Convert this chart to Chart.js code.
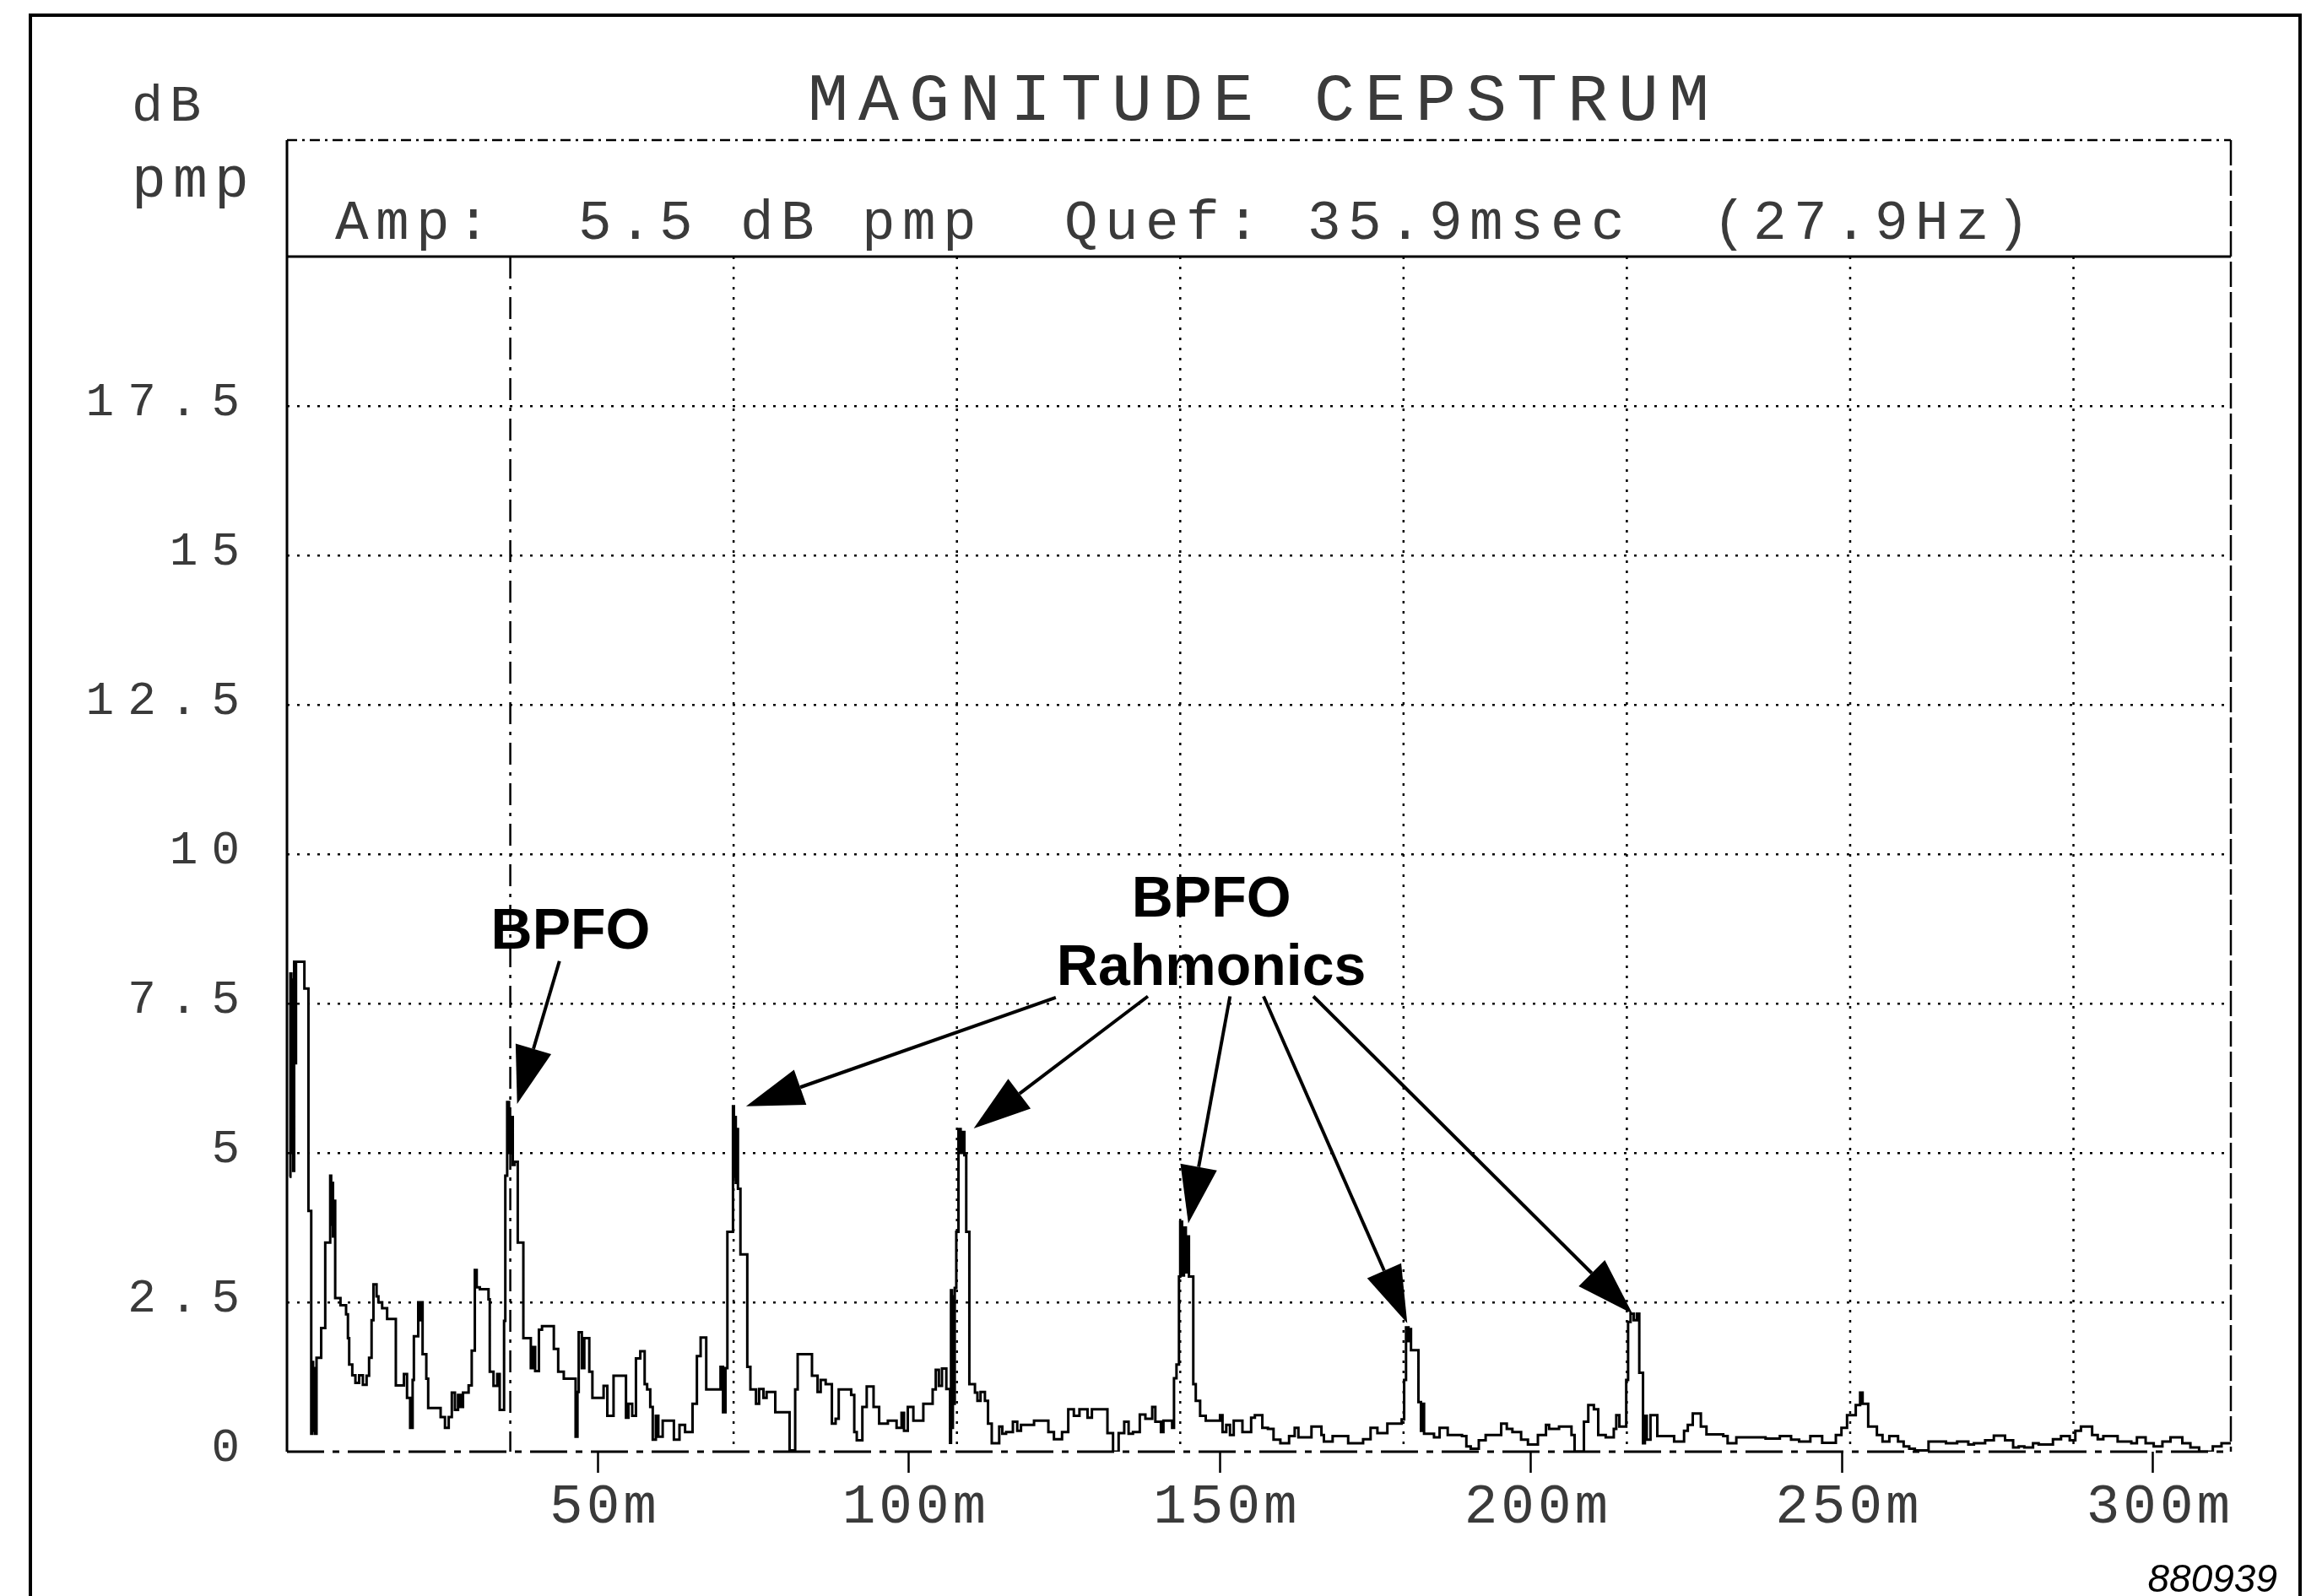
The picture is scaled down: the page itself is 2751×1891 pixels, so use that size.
<!DOCTYPE html>
<html>
<head>
<meta charset="utf-8">
<title>Magnitude Cepstrum</title>
<script src="https://cdn.jsdelivr.net/npm/chart.js@4/dist/chart.umd.min.js"></script>
<style>
  html, body { margin: 0; padding: 0; background: #fff; }
  canvas { display: block; }
</style>
</head>
<body>
<canvas id="chart" width="2751" height="1891" style="width:2751px;height:1891px"></canvas>
<script>
// quefrency (ms) where each step of the trace starts, and the level it steps to (dB pmp)
const quefMs = [
  // 0 - 52 ms
  0.4, 0.55, 0.7, 0.85, 1.0, 1.15, 1.3, 1.45, 2.8, 3.45,
  3.9, 4.05, 4.2, 4.35, 4.5, 4.75, 5.5, 6.15, 6.95, 7.1,
  7.25, 7.4, 7.55, 7.75, 8.6, 9.5, 9.8, 10.0, 10.5, 11.0,
  11.6, 12.2, 12.8, 13.2, 13.6, 13.9, 14.4, 14.7, 15.3, 16.1,
  17.5, 18.8, 19.3, 19.8, 20.2, 20.4, 21.1, 21.3, 21.5, 21.8,
  22.4, 22.7, 24.7, 25.4, 26.0, 26.5, 27.0, 27.5, 27.9, 28.3,
  29.2, 29.7, 30.2, 30.5, 31.0, 32.4, 32.6, 33.2, 33.8, 34.2,
  34.9, 35.1, 35.4, 35.7, 36.0, 36.3, 36.6, 37.1, 38.0, 39.2,
  39.6, 39.9, 40.5, 41.0, 42.9, 43.6, 44.5, 46.4, 46.7, 46.9,
  47.4, 47.8, 48.6, 49.1, 50.9, 51.5,
  // 52 - 105 ms
  51.9, 52.5, 54.5, 54.9, 55.5, 56.1, 56.8, 57.5, 57.9, 58.4,
  58.8, 59.3, 59.7, 60.4, 62.2, 63.1, 64.0, 65.2, 65.9, 66.5,
  67.4, 69.7, 70.1, 70.5, 70.8, 71.7, 71.85, 72.0, 72.15, 72.3,
  72.5, 72.9, 74.0, 74.5, 75.4, 75.9, 76.6, 77.1, 78.5, 80.8,
  81.7, 82.1, 84.4, 85.3, 85.8, 86.6, 87.6, 88.2, 88.7, 90.7,
  91.2, 91.6, 92.5, 93.2, 94.3, 95.2, 96.6, 98.0, 98.8, 99.2,
  99.8, 100.7, 102.3, 103.8, 104.3,
  // 105 - 157 ms
  104.8, 105.3, 106.0, 106.6, 106.75, 106.9, 107.05, 107.2, 107.35, 107.6,
  107.95, 108.3, 108.6, 108.9, 109.2, 109.7, 110.6, 111.0, 111.5, 112.2,
  112.7, 113.3, 114.5, 115.0, 115.6, 116.7, 117.4, 118.0, 120.1, 122.4,
  123.3, 124.6, 125.6, 126.5, 127.4, 128.7, 129.4, 131.9, 132.8, 133.7,
  134.6, 135.3, 136.0, 137.1, 138.0, 139.1, 139.6, 140.5, 140.9, 142.3,
  142.6, 143.0, 143.4, 143.6, 143.9, 144.2, 144.5, 144.8, 145.0, 145.7,
  146.1, 146.8, 147.7, 150.0, 150.4, 151.0, 151.6, 152.2, 153.6, 155.0,
  155.6, 156.8,
  // 157 - 211 ms
  157.7, 158.6, 159.7, 161.1, 162.0, 162.6, 164.7, 166.3, 166.7, 168.1,
  170.6, 173.0, 174.2, 175.3, 176.9, 179.2, 179.6, 179.9, 180.3, 180.5,
  180.7, 181.9, 182.3, 182.6, 182.8, 184.4, 185.3, 186.6, 188.9, 189.6,
  190.3, 191.6, 192.7, 195.2, 196.1, 197.0, 198.4, 199.5, 201.1, 202.4,
  202.9, 204.5, 206.5, 207.0, 208.5, 209.2, 210.1, 210.8,
  // 211 - 262 ms
  211.5, 212.0, 213.3, 213.7, 214.2, 215.3, 215.6, 216.0, 216.5, 217.0,
  217.4, 218.0, 218.3, 218.6, 219.2, 220.3, 223.0, 224.6, 225.2, 226.0,
  227.3, 228.2, 230.9, 231.6, 233.0, 237.7, 240.0, 241.8, 243.1, 244.9,
  246.8, 249.0, 249.9, 250.8, 252.2, 252.9, 253.3, 254.2, 255.6, 256.5,
  257.6, 259.0, 259.9, 260.8, 261.7,
  // 262 - 312.5 ms
  263.9, 266.7, 268.5, 270.3, 271.2, 273.0, 274.4, 276.2, 277.5, 278.4,
  279.3, 280.7, 281.6, 283.9, 285.2, 286.6, 287.5, 288.4, 290.2, 291.1,
  292.0, 294.3, 296.5, 297.4, 298.8, 300.1, 301.5, 302.8, 304.7, 306.0,
  307.4, 309.6, 311.0, 312.5
];
const ampDb = [
  4.6, 8.0, 5.0, 7.9, 4.7, 8.2, 6.5, 8.2, 7.75, 4.03,
  0.3, 1.5, 0.35, 1.4, 0.3, 1.57, 2.07, 3.5, 4.62, 3.8,
  4.5, 3.6, 4.2, 2.57, 2.45, 2.3, 1.9, 1.46, 1.28, 1.15,
  1.28, 1.12, 1.27, 1.57, 2.2, 2.8, 2.6, 2.5, 2.4, 2.22,
  1.11, 1.3, 0.9, 0.4, 1.2, 1.93, 2.5, 2.2, 2.5, 1.63,
  1.22, 0.73, 0.58, 0.4, 0.58, 0.99, 0.7, 0.95, 0.75, 0.99,
  1.11, 1.69, 3.04, 2.75, 2.72, 2.55, 1.34, 1.1, 1.3, 0.7,
  2.19, 4.62, 5.85, 5.0, 5.6, 4.8, 4.85, 3.5, 1.9, 1.4,
  1.75, 1.35, 2.04, 2.1, 1.72, 1.34, 1.22, 0.25, 1.0, 2.0,
  1.4, 1.9, 1.34, 0.9, 1.1, 0.6,

  0.6, 1.27, 0.57, 0.8, 0.6, 1.56, 1.68, 1.13, 1.04, 0.75,
  0.2, 0.6, 0.25, 0.52, 0.2, 0.45, 0.33, 0.8, 1.6, 1.91,
  1.04, 1.42, 0.66, 1.4, 3.68, 5.78, 4.6, 5.6, 4.5, 5.4,
  4.4, 3.3, 1.42, 1.04, 0.8, 1.05, 0.9, 1.0, 0.66, 0.02,
  1.04, 1.63, 1.27, 1.0, 1.2, 1.13, 0.47, 0.55, 1.04, 0.95,
  0.33, 0.19, 0.75, 1.09, 0.75, 0.47, 0.52, 0.4, 0.65, 0.35,
  0.75, 0.52, 0.8, 1.04, 1.37,

  1.1, 1.39, 1.05, 0.15, 2.7, 0.4, 2.6, 0.8, 2.74, 3.68,
  5.4, 5.0, 5.35, 4.96, 3.68, 1.13, 0.99, 0.85, 1.0, 0.85,
  0.47, 0.14, 0.42, 0.3, 0.33, 0.5, 0.35, 0.45, 0.52, 0.33,
  0.21, 0.33, 0.71, 0.6, 0.71, 0.57, 0.71, 0.31, 0.0, 0.31,
  0.5, 0.3, 0.33, 0.62, 0.55, 0.75, 0.5, 0.33, 0.52, 0.4,
  1.23, 1.46, 2.93, 3.85, 2.95, 3.75, 3.0, 3.6, 2.93, 1.13,
  0.85, 0.6, 0.52, 0.61, 0.33, 0.45, 0.28, 0.52, 0.33, 0.57,
  0.61, 0.4,

  0.38, 0.2, 0.14, 0.26, 0.4, 0.24, 0.42, 0.28, 0.17, 0.26,
  0.14, 0.21, 0.4, 0.31, 0.47, 0.54, 1.2, 2.08, 1.85, 2.05,
  1.7, 0.83, 0.35, 0.8, 0.3, 0.24, 0.4, 0.28, 0.26, 0.09,
  0.05, 0.19, 0.28, 0.47, 0.38, 0.33, 0.2, 0.12, 0.28, 0.45,
  0.38, 0.42, 0.28, 0.0, 0.5, 0.78, 0.71, 0.28,

  0.28, 0.24, 0.38, 0.61, 0.42, 1.2, 2.17, 2.31, 2.2, 2.31,
  1.32, 0.14, 0.6, 0.2, 0.61, 0.26, 0.17, 0.35, 0.45, 0.64,
  0.42, 0.29, 0.26, 0.14, 0.24, 0.22, 0.26, 0.2, 0.17, 0.26,
  0.15, 0.28, 0.4, 0.61, 0.78, 0.99, 0.8, 0.42, 0.28, 0.17,
  0.26, 0.17, 0.09, 0.05, 0.02,

  0.17, 0.14, 0.17, 0.12, 0.14, 0.19, 0.27, 0.19, 0.07, 0.09,
  0.07, 0.14, 0.12, 0.21, 0.26, 0.19, 0.35, 0.42, 0.28, 0.21,
  0.26, 0.17, 0.14, 0.24, 0.14, 0.09, 0.17, 0.24, 0.14, 0.07,
  0.0, 0.09, 0.14, 0.14
];

const xTickValues = [50, 100, 150, 200, 250, 300];
const yTickValues = [0, 2.5, 5, 7.5, 10, 12.5, 15, 17.5];

// cursor and its harmonic markers
const cursorMs = 35.9;
const harmonicCount = 8;

// annotation texts, placed in data units (ms, dB)
const noteText = ['BPFO', 'BPFO', 'Rahmonics'];
const noteMs = [45.6, 148.6, 148.6];
const noteDb = [8.42, 8.95, 7.81];

// arrows: tail and tip in data units
const arrowFromMs = [43.8, 123.6, 138.4, 151.6, 157.0, 165.0];
const arrowFromDb = [8.21, 7.60, 7.62, 7.62, 7.62, 7.62];
const arrowToMs = [37.0, 73.8, 110.4, 144.9, 180.1, 216.3];
const arrowToDb = [5.82, 5.78, 5.41, 3.82, 2.15, 2.31];

const MONO = '"Liberation Mono", "DejaVu Sans Mono", monospace';
const SANS = '"Liberation Sans", Arial, sans-serif';
const PEN = '#3a3a3a';   // plotter lettering looks thinner than the trace

function spaced(ctx, text, x, y, pitch) {
    for (let i = 0; i < text.length; i++) {
        ctx.fillText(text[i], x + i * pitch, y);
    }
}

function line(ctx, x1, y1, x2, y2, width, dash) {
    ctx.save();
    ctx.lineWidth = width;
    ctx.setLineDash(dash || []);
    ctx.beginPath();
    ctx.moveTo(x1, y1);
    ctx.lineTo(x2, y2);
    ctx.stroke();
    ctx.restore();
}

function arrow(ctx, x1, y1, x2, y2) {
    const ang = Math.atan2(y2 - y1, x2 - x1);
    const len = 68, half = 22;
    const bx = x2 - len * Math.cos(ang);
    const by = y2 - len * Math.sin(ang);
    line(ctx, x1, y1, bx, by, 4);
    ctx.beginPath();
    ctx.moveTo(x2, y2);
    ctx.lineTo(bx + half * Math.sin(ang), by - half * Math.cos(ang));
    ctx.lineTo(bx - half * Math.sin(ang), by + half * Math.cos(ang));
    ctx.closePath();
    ctx.fill();
}

const plotterFrame = {
    id: 'plotterFrame',
    beforeDraw(chart) {
        chart.ctx.letterSpacing = '16px';  // y tick labels
    },
    afterDatasetsDraw(chart) {
        chart.ctx.letterSpacing = '4px';   // x tick labels (drawn on top layer)
    },
    afterDraw(chart) {
        const { ctx, chartArea: a, scales: { x, y } } = chart;
        ctx.save();
        ctx.letterSpacing = '0px';
        ctx.strokeStyle = '#000';
        ctx.fillStyle = '#000';
        const headTop = a.top - 138;

        // outer border of the sheet
        ctx.lineWidth = 4;
        ctx.beginPath();
        ctx.moveTo(36, chart.height);
        ctx.lineTo(36, 18);
        ctx.lineTo(2725, 18);
        ctx.lineTo(2725, chart.height);
        ctx.stroke();

        // plot box with header strip
        line(ctx, a.left, headTop, a.left, a.bottom, 3);
        line(ctx, a.left, headTop, a.right, headTop, 2.5, [12, 6, 3, 6]);
        line(ctx, a.right, headTop, a.right, a.bottom, 2.5, [30, 6]);
        line(ctx, a.left, a.top, a.right, a.top, 3);
        line(ctx, a.left, a.bottom, a.right, a.bottom, 3, [44, 10, 8, 10]);

        // cursor and harmonic markers
        for (let n = 1; n <= harmonicCount; n++) {
            const px = x.getPixelForValue(n * cursorMs);
            if (n === 1) line(ctx, px, a.top, px, a.bottom, 2.5, [26, 9, 4, 9]);
            else line(ctx, px, a.top, px, a.bottom, 2.5, [3, 9]);
        }

        // plotter texts
        ctx.fillStyle = PEN;
        ctx.textAlign = 'left';
        ctx.textBaseline = 'alphabetic';
        ctx.font = '80px ' + MONO;
        spaced(ctx, 'MAGNITUDE CEPSTRUM', 957, 142, 60);
        ctx.font = '62px ' + MONO;
        spaced(ctx, 'dB', 156, 143, 45);
        ctx.font = '68px ' + MONO;
        spaced(ctx, 'pmp', 156, 233, 49);
        ctx.font = '66px ' + MONO;
        spaced(ctx, 'Amp:  5.5 dB pmp  Quef: 35.9msec  (27.9Hz)', 397, 283, 48);

        // annotations
        ctx.fillStyle = '#000';
        ctx.font = 'bold 68px ' + SANS;
        ctx.textAlign = 'center';
        noteText.forEach((t, i) => {
            ctx.fillText(t, x.getPixelForValue(noteMs[i]), y.getPixelForValue(noteDb[i]));
        });
        arrowToMs.forEach((ms, i) => {
            arrow(ctx,
                x.getPixelForValue(arrowFromMs[i]), y.getPixelForValue(arrowFromDb[i]),
                x.getPixelForValue(ms), y.getPixelForValue(arrowToDb[i]));
        });

        ctx.font = 'italic 46px ' + SANS;
        ctx.textAlign = 'right';
        ctx.fillText('880939', 2698, 1886);
        ctx.restore();
    }
};

new Chart(document.getElementById('chart'), {
    type: 'line',
    data: {
        datasets: [{
            data: quefMs.map((q, i) => ({ x: q, y: ampDb[i] })),
            stepped: 'before',
            borderColor: '#000',
            borderWidth: 3,
            pointRadius: 0,
            fill: false
        }]
    },
    options: {
        responsive: false,
        animation: false,
        devicePixelRatio: 1,
        layout: { padding: { left: 0, top: 304, right: 108, bottom: 0 } },
        plugins: {
            legend: { display: false },
            tooltip: { enabled: false }
        },
        scales: {
            x: {
                type: 'linear',
                min: 0,
                max: 312.5,
                afterBuildTicks: (axis) => { axis.ticks = xTickValues.map((v) => ({ value: v })); },
                afterFit: (scale) => { scale.height = 171; },
                grid: {
                    drawOnChartArea: false,
                    drawTicks: true,
                    tickLength: 25,
                    tickColor: '#000',
                    tickWidth: 2.5
                },
                border: { display: false },
                ticks: {
                    z: 1,
                    color: PEN,
                    font: { family: MONO, size: 66 },
                    padding: 2,
                    labelOffset: 8,
                    maxRotation: 0,
                    autoSkip: false,
                    callback: (v) => v + 'm'
                }
            },
            y: {
                min: 0,
                max: 20,
                afterBuildTicks: (axis) => { axis.ticks = yTickValues.map((v) => ({ value: v })); },
                afterFit: (scale) => { scale.width = 340; },
                grid: {
                    drawTicks: false,
                    tickLength: 0,
                    lineWidth: 2.5,
                    color: (c) => (c.tick && c.tick.value === 0) ? 'rgba(0,0,0,0)' : '#000'
                },
                border: { display: false, dash: [3, 9] },
                ticks: {
                    color: PEN,
                    font: { family: MONO, size: 56 },
                    padding: 40,
                    labelOffset: -4,
                    callback: (v) => String(v)
                }
            }
        }
    },
    plugins: [plotterFrame]
});
</script>
</body>
</html>
